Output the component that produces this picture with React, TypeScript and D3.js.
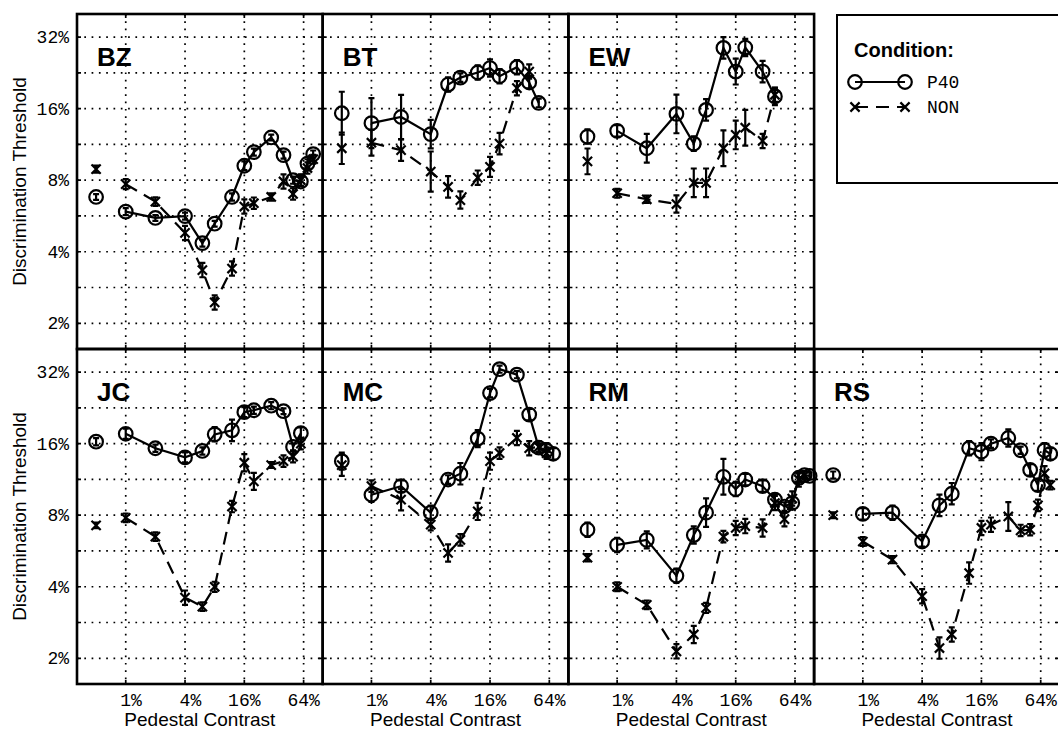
import * as d3 from "d3";

// pedestal contrast (%) of each test point, 0 = no pedestal
const contrastBZ = [0, 1, 2, 4, 6, 8, 12, 16, 20, 30, 40, 50, 60, 70, 80];
const p40BZ = [6.8, 5.9, 5.55, 5.65, 4.35, 5.25, 6.8, 9.2, 10.5, 12.1, 10.2, 8.0, 7.9, 9.4, 10.3];
const p40ErrBZ = [0.04, 0.05, 0.04, 0.05, 0.05, 0.04, 0.05, 0.06, 0.05, 0.04, 0.05, 0.05, 0.06, 0.06, 0.05];
const nonBZ = [8.9, 7.7, 6.5, 4.8, 3.35, 2.45, 3.4, 6.2, 6.4, 6.8, 7.9, 7.0, 8.0, 9.0, 9.8];
const nonErrBZ = [0.05, 0.07, 0.06, 0.1, 0.1, 0.1, 0.1, 0.1, 0.08, 0.05, 0.1, 0.08, 0.08, 0.08, 0.06];

const contrastBT = [0, 1, 2, 4, 6, 8, 12, 16, 20, 30, 40, 50];
const p40BT = [15.3, 13.9, 14.75, 12.5, 20.2, 21.6, 22.7, 23.7, 21.9, 23.9, 20.6, 16.9];
const p40ErrBT = [0.3, 0.35, 0.31, 0.2, 0.1, 0.06, 0.1, 0.12, 0.1, 0.1, 0.08, 0.06];
const nonBT = [10.9, 11.5, 10.7, 8.7, 7.5, 6.6, 8.2, 9.1, 11.4, 19.5, 22.9, null];
const nonErrBT = [0.22, 0.18, 0.15, 0.28, 0.15, 0.12, 0.1, 0.14, 0.15, 0.1, 0.1, 0];

const contrastEW = [0, 1, 2, 4, 6, 8, 12, 16, 20, 30, 40];
const p40EW = [12.2, 12.9, 10.9, 15.2, 11.4, 15.8, 28.8, 22.9, 28.9, 22.9, 18.0];
const p40ErrEW = [0.1, 0.08, 0.2, 0.27, 0.1, 0.15, 0.15, 0.18, 0.12, 0.15, 0.12];
const nonEW = [9.6, 7.05, 6.65, 6.35, 7.8, 7.8, 10.9, 12.4, 13.3, 11.7, 18.3];
const nonErrEW = [0.18, 0.06, 0.05, 0.12, 0.2, 0.2, 0.25, 0.2, 0.25, 0.1, 0.1];

const contrastJC = [0, 1, 2, 4, 6, 8, 12, 16, 20, 30, 40, 50, 60];
const p40JC = [16.3, 17.6, 15.3, 14.0, 14.9, 17.5, 18.2, 21.7, 22.1, 23.1, 21.9, 15.5, 17.7];
const p40ErrJC = [0.05, 0.07, 0.05, 0.07, 0.05, 0.1, 0.15, 0.07, 0.05, 0.05, 0.04, 0.05, 0.08];
const nonJC = [7.25, 7.8, 6.5, 3.6, 3.3, 4.0, 8.7, 13.3, 11.1, 13.0, 13.5, 14.1, 16.0];
const nonErrJC = [0.04, 0.06, 0.06, 0.1, 0.06, 0.07, 0.08, 0.12, 0.12, 0.04, 0.08, 0.08, 0.08];

const contrastMC = [0, 1, 2, 4, 6, 8, 12, 16, 20, 30, 40, 50, 60, 70];
const p40MC = [13.5, 9.75, 10.6, 8.2, 11.3, 11.95, 16.8, 26.1, 32.9, 31.2, 21.2, 15.4, 15.0, 14.5];
const p40ErrMC = [0.12, 0.1, 0.08, 0.1, 0.06, 0.15, 0.12, 0.06, 0.05, 0.05, 0.08, 0.06, 0.1, 0.08];
const nonMC = [13.0, 10.6, 9.3, 7.3, 5.55, 6.3, 8.3, 13.5, 14.6, 16.9, 15.3, 15.5, 14.6, null];
const nonErrMC = [0.15, 0.08, 0.15, 0.08, 0.12, 0.08, 0.12, 0.12, 0.08, 0.1, 0.1, 0.08, 0.08, 0];

const contrastRM = [0, 1, 2, 4, 6, 8, 12, 16, 20, 30, 40, 50, 60, 70, 80, 90];
const p40RM = [6.95, 6.0, 6.3, 4.45, 6.6, 8.2, 11.6, 10.3, 11.3, 10.6, 9.3, 8.7, 9.0, 11.5, 11.8, 11.7];
const p40ErrRM = [0.1, 0.1, 0.12, 0.1, 0.12, 0.2, 0.25, 0.1, 0.08, 0.08, 0.08, 0.06, 0.08, 0.06, 0.05, 0.05];
const nonRM = [5.3, 4.0, 3.36, 2.14, 2.52, 3.26, 6.5, 7.07, 7.2, 7.07, 9.0, 7.7, 9.4, 11.3, 11.8, null];
const nonErrRM = [0.05, 0.06, 0.06, 0.1, 0.12, 0.07, 0.08, 0.1, 0.1, 0.12, 0.1, 0.1, 0.1, 0.1, 0.06, 0];

const contrastRS = [0, 1, 2, 4, 6, 8, 12, 16, 20, 30, 40, 50, 60, 70, 80];
const p40RS = [11.8, 8.1, 8.2, 6.2, 8.8, 9.85, 15.3, 14.8, 16.0, 16.9, 15.0, 12.4, 10.7, 15.0, 14.5];
const p40ErrRS = [0.05, 0.08, 0.1, 0.07, 0.15, 0.15, 0.1, 0.12, 0.06, 0.12, 0.05, 0.08, 0.08, 0.1, 0.08];
const nonRS = [8.0, 6.2, 5.2, 3.65, 2.21, 2.52, 4.57, 7.07, 7.3, 7.9, 6.9, 6.95, 8.8, 12.0, 10.7];
const nonErrRS = [0.04, 0.06, 0.05, 0.1, 0.15, 0.1, 0.15, 0.1, 0.1, 0.2, 0.08, 0.08, 0.08, 0.1, 0.06];

const yTicks = [2, 4, 8, 16, 32];
const yTickLabels = ["2%", "4%", "8%", "16%", "32%"];
const yGrid = [2, 2.83, 4, 5.66, 8, 11.31, 16, 22.63, 32];
const xTicks = [1, 4, 16, 64];
const xTickLabels = ["1%", "4%", "16%", "64%"];
const legendLabels = ["P40", "NON"];

const observers = [
  { name: "BZ", col: 0, row: 0, c: contrastBZ, p40: p40BZ, p40Err: p40ErrBZ, non: nonBZ, nonErr: nonErrBZ },
  { name: "BT", col: 1, row: 0, c: contrastBT, p40: p40BT, p40Err: p40ErrBT, non: nonBT, nonErr: nonErrBT },
  { name: "EW", col: 2, row: 0, c: contrastEW, p40: p40EW, p40Err: p40ErrEW, non: nonEW, nonErr: nonErrEW },
  { name: "JC", col: 0, row: 1, c: contrastJC, p40: p40JC, p40Err: p40ErrJC, non: nonJC, nonErr: nonErrJC },
  { name: "MC", col: 1, row: 1, c: contrastMC, p40: p40MC, p40Err: p40ErrMC, non: nonMC, nonErr: nonErrMC },
  { name: "RM", col: 2, row: 1, c: contrastRM, p40: p40RM, p40Err: p40ErrRM, non: nonRM, nonErr: nonErrRM },
  { name: "RS", col: 3, row: 1, c: contrastRS, p40: p40RS, p40Err: p40ErrRS, non: nonRS, nonErr: nonErrRS },
];

const W = 1058;
const H = 732;
const left0 = 77;
const top0 = 14;
const panelW = 245.7;
const panelH = 335;
const zeroAt = 0.5; // where the no-pedestal point sits on the log axis

const sans = "'Liberation Sans', Arial, Helvetica, sans-serif";
const mono = "'Liberation Mono', 'Courier New', monospace";

function Circle({ cx, cy }: { cx: number; cy: number }) {
  return <circle cx={cx} cy={cy} r={6.8} fill="none" stroke="#000" strokeWidth={2.2} />;
}

function Cross({ cx, cy }: { cx: number; cy: number }) {
  const s = 4.6;
  return (
    <path
      d={`M${cx - s},${cy - s}L${cx + s},${cy + s}M${cx - s},${cy + s}L${cx + s},${cy - s}`}
      stroke="#000"
      strokeWidth={2.2}
    />
  );
}

function Panel({ obs }: { obs: any }) {
  const x0 = left0 + obs.col * panelW;
  const y0 = top0 + obs.row * panelH;
  const x = d3.scaleLog().base(2).domain([0.32, 100]).range([x0, x0 + panelW]);
  const y = d3.scaleLog().base(2).domain([1.56, 40]).range([y0 + panelH, y0]);
  const px = (c: number) => x(c === 0 ? zeroAt : c);

  const series = (vals: (number | null)[], errs: number[]) =>
    obs.c
      .map((c: number, i: number) => ({ c, v: vals[i], e: errs[i] }))
      .filter((d: any) => d.v != null);
  const p40 = series(obs.p40, obs.p40Err);
  const non = series(obs.non, obs.nonErr);

  const line = d3
    .line<any>()
    .x((d) => px(d.c))
    .y((d) => y(d.v));

  const errBar = (d: any, key: string) => {
    const cx = px(d.c);
    const ya = y(d.v * Math.pow(2, d.e));
    const yb = y(d.v / Math.pow(2, d.e));
    return (
      <path
        key={key}
        d={`M${cx},${ya}V${yb}M${cx - 3},${ya}H${cx + 3}M${cx - 3},${yb}H${cx + 3}`}
        stroke="#000"
        strokeWidth={2.2}
        fill="none"
      />
    );
  };

  return (
    <g>
      {/* dotted grid */}
      {yGrid.map((g) => (
        <line key={"gy" + g} x1={x0} x2={x0 + panelW} y1={y(g)} y2={y(g)} stroke="#000" strokeWidth={1.7} strokeDasharray="1.7 5.6" />
      ))}
      {xTicks.map((t) => (
        <line key={"gx" + t} x1={x(t)} x2={x(t)} y1={y0} y2={y0 + panelH} stroke="#000" strokeWidth={1.7} strokeDasharray="1.7 5.6" />
      ))}
      {/* inward ticks */}
      {yGrid.map((g) => (
        <path key={"ty" + g} d={`M${x0},${y(g)}h4M${x0 + panelW},${y(g)}h-4`} stroke="#000" strokeWidth={1.7} />
      ))}
      {xTicks.map((t) => (
        <path key={"tx" + t} d={`M${x(t)},${y0}v4M${x(t)},${y0 + panelH}v-4`} stroke="#000" strokeWidth={1.7} />
      ))}

      {/* connecting lines, no-pedestal point left unconnected */}
      <path d={line(non.filter((d: any) => d.c > 0)) || ""} fill="none" stroke="#000" strokeWidth={2.2} strokeDasharray="13 8" />
      <path d={line(p40.filter((d: any) => d.c > 0)) || ""} fill="none" stroke="#000" strokeWidth={2.2} />

      {non.map((d: any, i: number) => errBar(d, "en" + i))}
      {p40.map((d: any, i: number) => errBar(d, "ep" + i))}
      {non.map((d: any, i: number) => (
        <Cross key={"mn" + i} cx={px(d.c)} cy={y(d.v)} />
      ))}
      {p40.map((d: any, i: number) => (
        <Circle key={"mp" + i} cx={px(d.c)} cy={y(d.v)} />
      ))}

      <rect x={x0} y={y0} width={panelW} height={panelH} fill="none" stroke="#000" strokeWidth={2.6} />
      <text x={x0 + 20} y={y0 + 52} fontFamily={sans} fontWeight="bold" fontSize={26}>
        {obs.name}
      </text>

      {obs.col === 0 &&
        yTicks.map((t, i) => (
          <text key={"yl" + t} x={x0 - 8} y={y(t) + 6} textAnchor="end" fontFamily={mono} fontSize={18}>
            {yTickLabels[i]}
          </text>
        ))}
      {obs.col === 0 && (
        <text
          transform={`translate(25.5,${y0 + panelH / 2}) rotate(-90)`}
          textAnchor="middle"
          fontFamily={sans}
          fontSize={19}
        >
          Discrimination Threshold
        </text>
      )}
      {obs.row === 1 &&
        xTicks.map((t, i) => (
          <text key={"xl" + t} x={x(t) + 16.2} y={706} textAnchor="end" fontFamily={mono} fontSize={18}>
            {xTickLabels[i]}
          </text>
        ))}
      {obs.row === 1 && (
        <text x={x0 + panelW / 2} y={726} textAnchor="middle" fontFamily={sans} fontSize={19}>
          Pedestal Contrast
        </text>
      )}
    </g>
  );
}

function Legend() {
  const lx = 837;
  const ly = 15;
  return (
    <g>
      <rect x={lx} y={ly} width={240} height={168} fill="none" stroke="#000" strokeWidth={2} />
      <text x={854} y={57} fontFamily={sans} fontWeight="bold" fontSize={20}>
        Condition:
      </text>
      <line x1={855} x2={905} y1={82} y2={82} stroke="#000" strokeWidth={2.2} />
      <Circle cx={855} cy={82} />
      <Circle cx={905} cy={82} />
      <text x={927} y={88} fontFamily={mono} fontSize={18}>
        {legendLabels[0]}
      </text>
      <line x1={855} x2={905} y1={107} y2={107} stroke="#000" strokeWidth={2.2} strokeDasharray="13 8" />
      <Cross cx={855} cy={107} />
      <Cross cx={905} cy={107} />
      <text x={927} y={113} fontFamily={mono} fontSize={18}>
        {legendLabels[1]}
      </text>
    </g>
  );
}

export default function App() {
  return (
    <svg
      width={W}
      height={H}
      viewBox={`0 0 ${W} ${H}`}
      style={{ position: "absolute", left: 0, top: 0, background: "#fff" }}
    >
      <rect width={W} height={H} fill="#fff" />
      {observers.map((o) => (
        <Panel key={o.name} obs={o} />
      ))}
      <Legend />
    </svg>
  );
}
